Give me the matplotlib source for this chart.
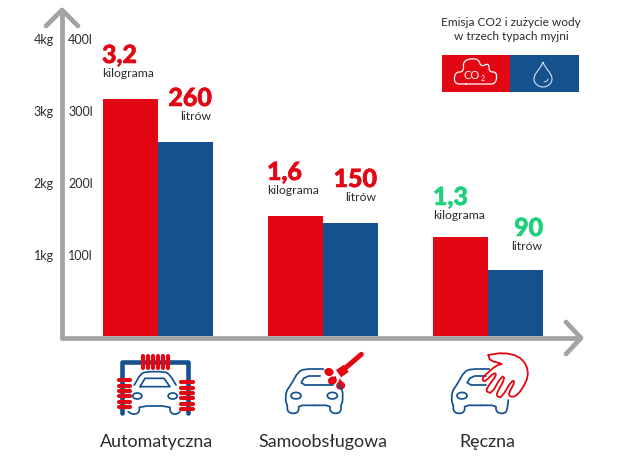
import numpy as np
from matplotlib import pyplot as plt
from matplotlib import patheffects as pe
from matplotlib.patches import Ellipse, PathPatch, Rectangle
from matplotlib.path import Path

plt.rcParams['font.family'] = ['Lato', 'DejaVu Sans']

categories = ['Automatyczna', 'Samoobsługowa', 'Ręczna']
co2_kg = [3.2, 1.62, 1.34]
water_l = [262, 153, 89]
co2_labels = ['3,2', '1,6', '1,3']
water_labels = ['260', '150', '90']
kg_ticks = ['4kg', '3kg', '2kg', '1kg']
l_ticks = ['400l', '300l', '200l', '100l']

RED = '#e30613'
BLUE = '#15508f'
GREEN = '#1fd07c'
GREY = '#a3a3a3'
DARK = '#2b2b2b'

fig = plt.figure(figsize=(6.17, 4.63), dpi=100)

# bars: one axes per unit, 74 px per kg / per 100 l, baseline at y=336 px
ax = fig.add_axes([0, (463 - 336) / 463, 1, 336 / 463])
ax.set_xlim(-157.5 / 165.2, (617 - 157.5) / 165.2)
ax.set_ylim(0, 336 / 74)
ax.axis('off')
ax2 = ax.twinx()
ax2.set_ylim(0, 33600 / 74)
ax2.axis('off')

x = np.arange(len(categories))
bar_w = 55 / 165.2
ax.bar(x - bar_w / 2, co2_kg, bar_w, color=RED)
ax2.bar(x + bar_w / 2, water_l, bar_w, color=BLUE)

# overlay in pixels for the arrows, icons and text
ov = fig.add_axes([0, 0, 1, 1])
ov.set_xlim(0, 617)
ov.set_ylim(463, 0)
ov.axis('off')
ov.patch.set_alpha(0)


def smooth(points, rounds=2):
    # corner cutting so the icon outlines do not look polygonal
    pts = np.array(points, dtype=float)
    for _ in range(rounds):
        a, b = pts[:-1], pts[1:]
        q = 0.75 * a + 0.25 * b
        r = 0.25 * a + 0.75 * b
        mid = np.empty((2 * len(a), 2))
        mid[0::2], mid[1::2] = q, r
        pts = np.vstack([pts[0], mid, pts[-1]])
    return pts


def line(points, color, lw=2.0):
    xs, ys = zip(*points)
    ov.plot(xs, ys, color=color, lw=lw, solid_capstyle='round', solid_joinstyle='round')


# grey arrows
line([(62, 338), (62, 10)], GREY, 3.4)
line([(46, 26), (62, 10), (78, 26)], GREY, 3.4)
line([(62, 338), (580, 338)], GREY, 3.4)
line([(566, 322), (581, 338), (566, 354)], GREY, 3.4)

# y tick labels
for i, (k, l) in enumerate(zip(kg_ticks, l_ticks)):
    y = 44 + 72 * i
    ov.text(54, y, k, ha='right', va='baseline', fontsize=9, color=DARK)
    ov.text(68, y, l, ha='left', va='baseline', fontsize=9, color=DARK)

# value labels
co2_pos = [(102, 63, RED), (267, 180, RED), (433, 205, GREEN)]
water_pos = [(212, 106, RED), (377, 187, RED), (543, 236, GREEN)]
for lab, (px, py, col) in zip(co2_labels, co2_pos):
    t = ov.text(px, py, lab, ha='left', va='baseline', fontsize=18, fontweight='black', color=col)
    t.set_path_effects([pe.withStroke(linewidth=0.4, foreground=col)])
    ov.text(px, py + 14, 'kilograma', ha='left', va='baseline', fontsize=8.7, color=DARK)
for lab, (px, py, col) in zip(water_labels, water_pos):
    t = ov.text(px, py, lab, ha='right', va='baseline', fontsize=18, fontweight='black', color=col)
    t.set_path_effects([pe.withStroke(linewidth=0.4, foreground=col)])
    ov.text(px - 1, py + 14, 'litrów', ha='right', va='baseline', fontsize=8.7, color=DARK)

# category labels
for name, px in zip(categories, [157, 323, 487]):
    ov.text(px, 447, name, ha='center', va='baseline', fontsize=12.9, color=DARK)

# legend box
ov.text(511, 26, 'Emisja CO2 i zużycie wody', ha='center', va='baseline', fontsize=8.6, color=DARK)
ov.text(511, 40, 'w trzech typach myjni', ha='center', va='baseline', fontsize=8.6, color=DARK)
ov.add_patch(Rectangle((442, 55), 68, 37, color=RED, lw=0))
ov.add_patch(Rectangle((510, 55), 69, 37, color=BLUE, lw=0))

cloud = smooth([(466, 84), (454, 84), (455, 72), (464, 72), (463, 60), (478, 58), (481, 67),
                (489, 63), (489, 72), (497, 72), (496, 84), (486, 84), (466, 84)], 3)
line(cloud, 'white', 0.9)
ov.text(472, 79, 'CO', ha='center', va='baseline', fontsize=8, color='white')
ov.text(482.5, 81, '2', ha='center', va='baseline', fontsize=5, color='white')

drop = Path(
    [(543, 62), (540, 70), (534, 73), (534, 79), (534, 84), (539, 87), (543, 87),
     (547, 87), (552, 84), (552, 79), (552, 73), (546, 70), (543, 62)],
    [Path.MOVETO, Path.CURVE4, Path.CURVE4, Path.CURVE4, Path.CURVE4, Path.CURVE4, Path.CURVE4,
     Path.CURVE4, Path.CURVE4, Path.CURVE4, Path.CURVE4, Path.CURVE4, Path.CURVE4])
ov.add_patch(PathPatch(drop, fc='none', ec='#d5e3ef', lw=0.8))
line([(544, 82), (547, 81), (548, 79)], '#d5e3ef', 0.7)


# icon outlines given in the 3x zoom units of the reference
def z(points, ox, oy):
    return [(ox + a / 3, oy + b / 3) for a, b in points]


def car_left(ox, oy, lw=1.25):
    line(smooth(z([(160, 87), (105, 87), (85, 95), (62, 135), (48, 155), (47, 185), (52, 195), (52, 212),
                   (62, 220), (78, 220), (86, 212), (86, 196), (133, 196)], ox, oy), 1), BLUE, lw)
    line(smooth(z([(150, 108), (105, 108), (90, 135), (150, 135)], ox, oy), 1), BLUE, lw)
    ov.add_patch(Ellipse((ox + 78 / 3, oy + 167 / 3), 10, 6.5, fc='none', ec=BLUE, lw=lw))


def car_right(ox, oy, lw=1.25):
    line(smooth(z([(133, 196), (180, 196), (180, 212), (190, 220), (205, 220), (213, 212), (213, 195),
                   (218, 185), (218, 150), (205, 135)], ox, oy), 1), BLUE, lw)
    line(z([(150, 135), (190, 135)], ox, oy), BLUE, lw)
    ov.add_patch(Ellipse((ox + 187 / 3, oy + 167 / 3), 10, 6.5, fc='none', ec=BLUE, lw=lw))


# automatic wash
ox, oy = 90, 340
line(z([(95, 220), (95, 67), (295, 67), (295, 220)], ox, oy), BLUE, 3.3)
line(smooth(z([(115, 215), (125, 222), (140, 222), (148, 214), (148, 198), (240, 198), (240, 214),
               (248, 222), (262, 222), (270, 215)], ox, oy), 1), BLUE, 1.25)
line(smooth(z([(133, 135), (150, 105), (165, 95), (225, 95), (240, 105), (258, 135)], ox, oy), 1), BLUE, 1.25)
line(z([(150, 140), (165, 115), (222, 115), (240, 140), (150, 140)], ox, oy), BLUE, 1.25)
ov.add_patch(Ellipse((ox + 142 / 3, oy + 168 / 3), 9, 6, fc='none', ec=BLUE, lw=1.25))
ov.add_patch(Ellipse((ox + 248 / 3, oy + 168 / 3), 9, 6, fc='none', ec=BLUE, lw=1.25))
for bx in [160, 174, 189, 204, 219, 234]:
    line(z([(bx, 48), (bx, 84)], ox, oy), RED, 3.0)
for by in [120, 137, 153, 169, 185, 202]:
    line(z([(86, by), (120, by)], ox, oy), RED, 3.0)
for by in [127, 143, 158, 175, 191, 208]:
    line(z([(274, by), (308, by)], ox, oy), RED, 3.0)

# self-service wash
ox, oy = 270, 340
car_left(ox, oy)
car_right(ox, oy)
line(z([(274, 43), (225, 85)], ox, oy), RED, 3.6)
ov.fill(*zip(*z([(198, 90), (222, 74), (236, 96), (213, 112)], ox, oy)), color=RED, lw=0)
for dx, dy, ang in [(177, 96, 15), (187, 122, -40), (212, 137, -15)]:
    ov.add_patch(Ellipse((ox + dx / 3, oy + dy / 3), 9, 8, angle=ang, color=RED, lw=0))
ov.fill(*zip(*z([(160, 92), (178, 85), (192, 98)], ox, oy)), color=RED, lw=0)
ov.fill(*zip(*z([(172, 120), (198, 108), (200, 125)], ox, oy)), color=RED, lw=0)
ov.fill(*zip(*z([(200, 135), (210, 115), (222, 135)], ox, oy)), color=RED, lw=0)

# hand wash
ox, oy = 270 + 166, 340
car_left(ox, oy)
line(smooth(z([(133, 196), (180, 196), (180, 212), (190, 220), (205, 220), (213, 212), (217, 180)], ox, oy), 1),
     BLUE, 1.25)
hand = [(655, 45), (700, 38), (745, 48), (770, 75), (775, 110), (755, 150), (735, 170), (720, 170),
        (716, 160), (735, 125), (725, 122), (695, 172), (682, 170), (680, 160), (705, 115), (695, 108),
        (665, 160), (650, 155), (650, 145), (680, 105), (672, 98), (645, 125), (637, 120), (640, 110),
        (680, 75), (700, 72), (660, 62), (655, 45)]
ov.fill(*zip(*smooth(z(hand, 270, 340), 1)), color='white', lw=0)
line(smooth(z(hand, 270, 340), 1), RED, 1.3)

fig.savefig('out.png', dpi=100)
